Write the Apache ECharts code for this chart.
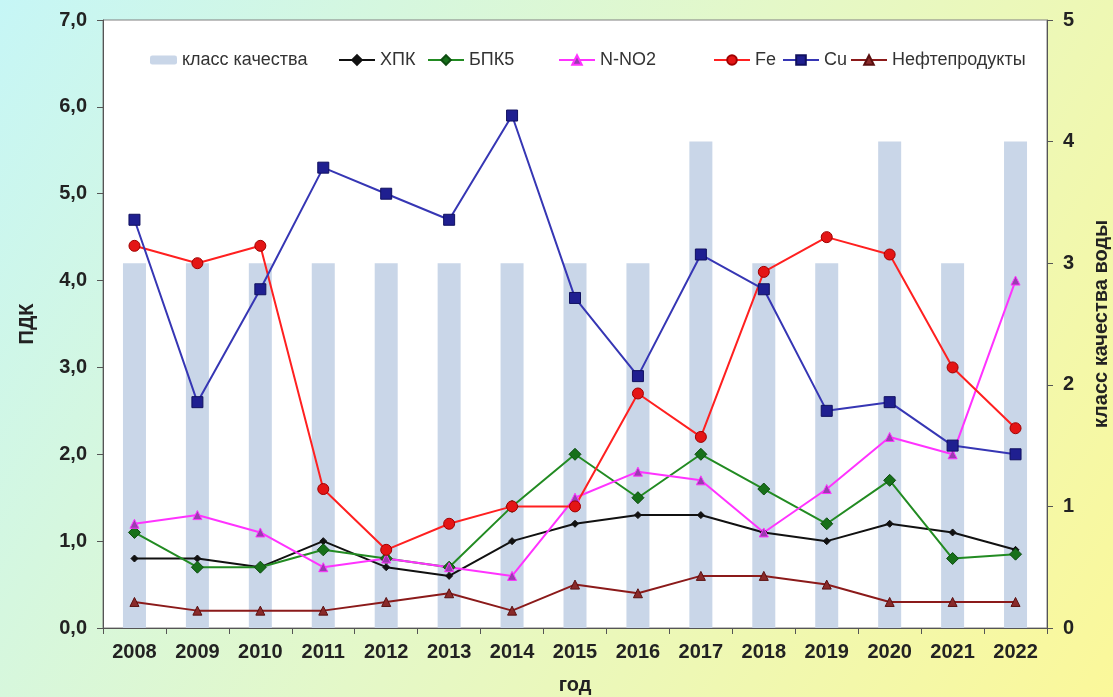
<!DOCTYPE html>
<html><head><meta charset="utf-8">
<script src="https://cdn.jsdelivr.net/npm/echarts@6/dist/echarts.min.js"></script>
<style>html,body{margin:0;padding:0;}#c{width:1113px;height:697px;}</style>
</head><body><div id="c"></div>
<script>
const years = ['2008','2009','2010','2011','2012','2013','2014','2015','2016','2017','2018','2019','2020','2021','2022'];
const klass = [3,3,3,3,3,3,3,3,3,4,3,3,4,3,4];
const hpk  = [0.8,0.8,0.7,1.0,0.7,0.6,1.0,1.2,1.3,1.3,1.1,1.0,1.2,1.1,0.9];
const bpk5 = [1.1,0.7,0.7,0.9,0.8,0.7,1.4,2.0,1.5,2.0,1.6,1.2,1.7,0.8,0.85];
const nno2 = [1.2,1.3,1.1,0.7,0.8,0.7,0.6,1.5,1.8,1.7,1.1,1.6,2.2,2.0,4.0];
const fe   = [4.4,4.2,4.4,1.6,0.9,1.2,1.4,1.4,2.7,2.2,4.1,4.5,4.3,3.0,2.3];
const cu   = [4.7,2.6,3.9,5.3,5.0,4.7,5.9,3.8,2.9,4.3,3.9,2.5,2.6,2.1,2.0];
const neft = [0.3,0.2,0.2,0.2,0.3,0.4,0.2,0.5,0.4,0.6,0.6,0.5,0.3,0.3,0.3];
const seriesNames = ['класс качества','ХПК','БПК5','N-NO2','Fe','Cu','Нефтепродукты'];

const font = 'Liberation Sans, Arial, sans-serif';
const chart = echarts.init(document.getElementById('c'));
function line(name, data, color, symbol, size, mColor, bColor){
  return {name, type:'line', data, yAxisIndex:0, z:5,
    lineStyle:{color, width:2}, itemStyle:{color:mColor, borderColor:bColor, borderWidth:1},
    symbol, symbolSize:size, showSymbol:true};
}
const legendText = {fontFamily:font, fontSize:18, color:'#333'};
const legendLefts = [145, 333, 422, 553, 708, 777, 845];
const legends = seriesNames.map((n,i)=>({
  data:[n], left:legendLefts[i], top:46, itemGap:4,
  itemWidth: i===0 ? 27 : 36, itemHeight: i===0 ? 9 : 12, textStyle:legendText
}));
const tickFont = {fontFamily:font, fontSize:20, fontWeight:'bold', color:'#222'};
chart.setOption({
  animation:false,
  backgroundColor:{type:'linear', x:0, y:0, x2:1, y2:1, colorStops:[
    {offset:0, color:'#c6f6f6'}, {offset:0.5, color:'#e4f8c8'}, {offset:1, color:'#fbf89a'}]},
  grid:{left:103, right:66, top:20, bottom:69, containLabel:false, outerBoundsMode:'none',
    show:true, backgroundColor:'#ffffff', borderColor:'#808080', borderWidth:1},
  legend:legends,
  xAxis:{type:'category', data:years, boundaryGap:true,
    name:'год', nameLocation:'middle', nameGap:47,
    nameTextStyle:tickFont,
    axisLine:{lineStyle:{color:'#555'}}, axisTick:{show:true, inside:false, length:6, lineStyle:{color:'#555'}},
    axisLabel:Object.assign({margin:14}, tickFont),
    splitLine:{show:false}},
  yAxis:[
    {type:'value', min:0, max:7, interval:1, position:'left',
     name:'ПДК', nameLocation:'middle', nameGap:66, nameRotate:90,
     nameTextStyle:tickFont,
     axisLine:{show:true, lineStyle:{color:'#555'}}, axisTick:{show:true, length:6, lineStyle:{color:'#555'}},
     axisLabel:Object.assign({margin:16, formatter:v=>v.toFixed(1).replace('.',',')}, tickFont),
     splitLine:{show:false}},
    {type:'value', min:0, max:5, interval:1, position:'right',
     name:'класс качества воды', nameLocation:'middle', nameGap:44, nameRotate:90,
     nameTextStyle:tickFont,
     axisLine:{show:true, lineStyle:{color:'#555'}}, axisTick:{show:true, length:6, lineStyle:{color:'#555'}},
     axisLabel:Object.assign({margin:16}, tickFont),
     splitLine:{show:false}}
  ],
  series:[
    {name:'класс качества', type:'bar', data:klass, yAxisIndex:1, barWidth:23, z:1,
     itemStyle:{color:'#c9d6e8'}},
    line('ХПК', hpk, '#111111', 'diamond', 7, '#111111', '#111111'),
    line('БПК5', bpk5, '#228b22', 'diamond', 12, '#17701a', '#0d4d10'),
    line('N-NO2', nno2, '#ff33ff', 'triangle', 9, '#9a3cb0', '#ff33ff'),
    line('Fe', fe, '#ff2020', 'circle', 11, '#e41515', '#a00000'),
    line('Cu', cu, '#3636b4', 'rect', 11, '#1f1f90', '#101060'),
    line('Нефтепродукты', neft, '#8b1a1a', 'triangle', 9, '#8a2a2a', '#5a1010')
  ]
});
</script></body></html>
